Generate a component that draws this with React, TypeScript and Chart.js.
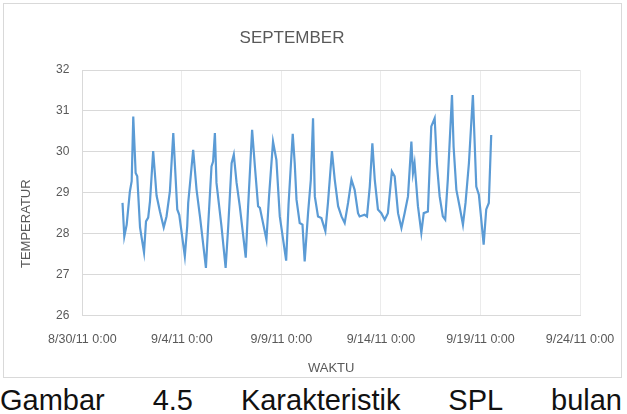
import React, { useEffect, useRef } from 'react';
import { Chart, registerables } from 'chart.js';

Chart.register(...registerables);

const chartTitle = 'SEPTEMBER';
const xAxisTitle = 'WAKTU';
const yAxisTitle = 'TEMPERATUR';
const captionWords = ['Gambar', '4.5', 'Karakteristik', 'SPL', 'bulan'];

// x tick labels every 5 days starting 8/30/11 0:00
const xTickLabels = ['8/30/11 0:00', '9/4/11 0:00', '9/9/11 0:00', '9/14/11 0:00', '9/19/11 0:00', '9/24/11 0:00'];
const yMin = 26;
const yMax = 32;

// time in days since 8/30/11 0:00
const dayOffsets = [
  2.02, 2.11, 2.23, 2.39, 2.48, 2.56, 2.68, 2.76, 2.90, 2.98,
  3.10, 3.20, 3.31, 3.40, 3.56, 3.73, 3.90, 4.09, 4.23, 4.40,
  4.57, 4.77, 4.87, 5.15, 5.27, 5.32, 5.57, 5.74, 5.91, 6.21,
  6.32, 6.49, 6.57, 6.66, 6.74, 6.99, 7.20, 7.33, 7.50, 7.61,
  7.75, 7.91, 8.21, 8.33, 8.53, 8.67, 8.83, 8.92, 9.25, 9.38,
  9.58, 9.75, 9.92, 10.24, 10.36, 10.57, 10.67, 10.76, 10.92, 11.06,
  11.17, 11.34, 11.48, 11.59, 11.68, 11.84, 12.01, 12.21, 12.34, 12.54,
  12.68, 12.85, 13.02, 13.18, 13.35, 13.52, 13.68, 13.85, 13.93, 14.18,
  14.30, 14.44, 14.57, 14.69, 14.85, 15.02, 15.19, 15.35, 15.55, 15.69,
  15.86, 16.03, 16.19, 16.36, 16.53, 16.61, 16.69, 16.86, 17.03, 17.15,
  17.36, 17.53, 17.70, 17.81, 17.95, 18.11, 18.23, 18.36, 18.57, 18.65,
  18.79, 18.95, 19.12, 19.25, 19.42, 19.62, 19.79, 19.92, 20.01, 20.16,
  20.29, 20.42, 20.54,
];

const temperatures = [
  28.75, 27.93, 28.22, 29.03, 29.28, 30.86, 29.48, 29.40, 28.15, 27.90,
  27.54, 28.30, 28.39, 28.79, 30.02, 28.93, 28.54, 28.15, 28.42, 29.03,
  30.46, 28.59, 28.46, 27.45, 28.18, 28.75, 30.05, 29.07, 28.42, 27.16,
  28.18, 29.64, 29.76, 30.46, 29.24, 28.18, 27.16, 28.18, 29.72, 29.93,
  29.24, 28.67, 27.41, 28.67, 30.54, 29.64, 28.67, 28.63, 27.85, 28.91,
  30.25, 29.80, 28.42, 27.34, 28.71, 30.44, 29.72, 28.83, 28.26, 28.22,
  27.32, 28.50, 29.32, 30.82, 28.91, 28.42, 28.38, 28.06, 28.75, 30.02,
  29.32, 28.67, 28.42, 28.26, 28.75, 29.32, 29.07, 28.50, 28.42, 28.46,
  28.42, 29.15, 30.21, 29.32, 28.59, 28.50, 28.34, 28.50, 29.52, 29.40,
  28.50, 28.14, 28.50, 28.91, 30.25, 29.48, 29.72, 28.67, 28.02, 28.50,
  28.54, 30.62, 30.82, 29.72, 28.91, 28.42, 28.34, 29.32, 31.39, 30.13,
  29.07, 28.67, 28.22, 28.75, 29.72, 31.39, 29.15, 28.95, 28.50, 27.73,
  28.59, 28.75, 30.41,
];

const FONT = '"Liberation Sans", Arial, sans-serif';
const TEXT_COLOR = '#595959';

const yTitlePlugin = {
  id: 'yTitleCustom',
  afterDraw(chart: any) {
    const { ctx, chartArea } = chart;
    ctx.save();
    ctx.translate(chartArea.left - 56, (chartArea.top + chartArea.bottom) / 2 + 31);
    ctx.rotate(-Math.PI / 2);
    ctx.font = `13px ${FONT}`;
    ctx.fillStyle = TEXT_COLOR;
    ctx.textAlign = 'center';
    ctx.textBaseline = 'middle';
    ctx.fillText(yAxisTitle, 0, 0);
    ctx.restore();
  },
};

export default function App() {
  const canvasRef = useRef<HTMLCanvasElement | null>(null);

  useEffect(() => {
    if (!canvasRef.current) return;
    const points = dayOffsets.map((d, i) => ({ x: d, y: temperatures[i] }));
    const chart = new Chart(canvasRef.current, {
      type: 'line',
      data: {
        datasets: [
          {
            data: points,
            borderColor: '#5b9bd5',
            borderWidth: 2.2,
            pointRadius: 0,
            tension: 0,
            fill: false,
          },
        ],
      },
      options: {
        animation: false,
        responsive: false,
        maintainAspectRatio: false,
        layout: { padding: { left: 0, right: 41, top: 0, bottom: 0 } },
        plugins: {
          legend: { display: false },
          tooltip: { enabled: false },
          title: {
            display: true,
            text: chartTitle,
            color: TEXT_COLOR,
            font: { family: FONT, size: 17, weight: 'normal' },
            padding: { top: 24, bottom: 21.6 },
          },
        },
        scales: {
          x: {
            type: 'linear',
            min: 0,
            max: (xTickLabels.length - 1) * 5,
            ticks: {
              stepSize: 5,
              autoSkip: false,
              maxRotation: 0,
              minRotation: 0,
              padding: 0,
              color: TEXT_COLOR,
              font: { family: FONT, size: 12.5 },
              callback: (v: any) => xTickLabels[Math.round(Number(v) / 5)] ?? '',
            },
            grid: { color: '#ebebeb', drawTicks: true, tickLength: 17, tickColor: 'rgba(0,0,0,0)' },
            border: { display: true, color: '#d9d9d9' },
            title: {
              display: true,
              text: xAxisTitle,
              color: TEXT_COLOR,
              font: { family: FONT, size: 13 },
              padding: { top: 13, bottom: 1 },
            },
          },
          y: {
            min: yMin,
            max: yMax,
            ticks: {
              stepSize: 1,
              padding: 13,
              color: TEXT_COLOR,
              font: { family: FONT, size: 12 },
            },
            grid: { color: '#d9d9d9', drawTicks: false },
            border: { display: true, color: '#d9d9d9' },
            afterFit: (scale: any) => {
              scale.width = 78.3;
            },
          },
        },
      },
      plugins: [yTitlePlugin],
    } as any);
    return () => chart.destroy();
  }, []);

  return (
    <div style={{ position: 'fixed', left: 0, top: 0, width: 627, height: 414, background: '#fff', overflow: 'hidden' }}>
      <div
        style={{
          position: 'absolute',
          left: 3,
          top: 3,
          width: 619,
          height: 375,
          border: '1px solid #d9d9d9',
          boxSizing: 'border-box',
          background: '#fff',
        }}
      >
        <canvas ref={canvasRef} width={617} height={373} style={{ display: 'block', width: 617, height: 373 }} />
      </div>
      <div
        style={{
          position: 'absolute',
          left: 0,
          top: 384,
          width: 622,
          display: 'flex',
          justifyContent: 'space-between',
          fontFamily: FONT,
          fontSize: 29,
          lineHeight: '33px',
          color: '#111',
          whiteSpace: 'nowrap',
        }}
      >
        {captionWords.map((w, i) => (
          <span key={i}>{w}</span>
        ))}
      </div>
    </div>
  );
}
